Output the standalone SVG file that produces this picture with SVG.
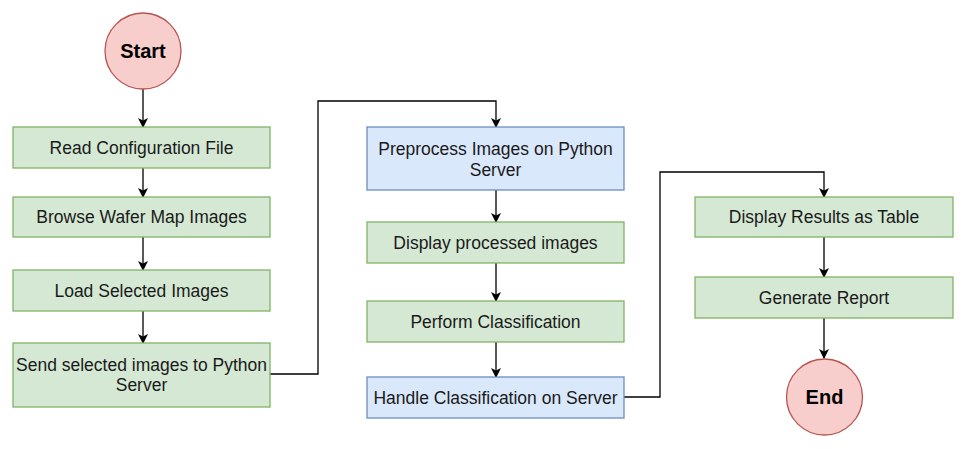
<svg xmlns="http://www.w3.org/2000/svg" width="966" height="449" viewBox="0 0 966 449">
<style>
.g{fill:#d5e8d4;stroke:#82b366;stroke-width:1.3}
.b{fill:#dae8fc;stroke:#6c8ebf;stroke-width:1.3}
.r{fill:#f8cecc;stroke:#b85450;stroke-width:1.3}
.t{font-family:"Liberation Sans",Arial,sans-serif;font-size:17.5px;fill:#1a1a1a;text-anchor:middle;dominant-baseline:central}
.tb{font-family:"Liberation Sans",Arial,sans-serif;font-size:20px;font-weight:bold;fill:#000;text-anchor:middle;dominant-baseline:central}
.c{fill:none;stroke:#000;stroke-width:1.3;marker-end:url(#a)}
</style>
<defs>
<marker id="a" markerWidth="10" markerHeight="10" refX="9" refY="5" orient="auto" markerUnits="userSpaceOnUse">
<path d="M0,0 L10,5 L0,10 L2.5,5 Z" fill="#000"/>
</marker>
</defs>
<rect width="966" height="449" fill="#fff"/>
<g id="connectors">
<path class="c" d="M143,89 V127"/>
<path class="c" d="M143,168 V197"/>
<path class="c" d="M143,237 V270"/>
<path class="c" d="M143,311 V343"/>
<path class="c" d="M270,374 H318 V101 H496 V127"/>
<path class="c" d="M496,190 V222"/>
<path class="c" d="M496,263 V301"/>
<path class="c" d="M496,342 V377"/>
<path class="c" d="M624,397 H660 V172 H824 V197"/>
<path class="c" d="M824,237 V277"/>
<path class="c" d="M824,318 V358"/>
</g>
<g id="start"><circle class="r" cx="143" cy="51" r="38"/><text class="tb" x="143" y="51">Start</text></g>
<g id="read"><rect class="g" x="13" y="127" width="257" height="41"/><text class="t" x="141.5" y="147.5">Read Configuration File</text></g>
<g id="browse"><rect class="g" x="13" y="197" width="257" height="40"/><text class="t" x="141.5" y="217">Browse Wafer Map Images</text></g>
<g id="load"><rect class="g" x="13" y="270" width="257" height="41"/><text class="t" x="141.5" y="290.5">Load Selected Images</text></g>
<g id="send"><rect class="g" x="13" y="343" width="257" height="64"/><text class="t" x="141.5" y="365">Send selected images to Python</text><text class="t" x="141.5" y="385">Server</text></g>
<g id="preprocess"><rect class="b" x="367" y="127" width="257" height="63"/><text class="t" x="495.5" y="148.5">Preprocess Images on Python</text><text class="t" x="495.5" y="169.5">Server</text></g>
<g id="display"><rect class="g" x="367" y="222" width="257" height="41"/><text class="t" x="495.5" y="242.5">Display processed images</text></g>
<g id="perform"><rect class="g" x="367" y="301" width="257" height="41"/><text class="t" x="495.5" y="321.5">Perform Classification</text></g>
<g id="handle"><rect class="b" x="367" y="377" width="257" height="41"/><text class="t" x="495.5" y="397.5">Handle Classification on Server</text></g>
<g id="results"><rect class="g" x="695" y="197" width="258" height="40"/><text class="t" x="824" y="217">Display Results as Table</text></g>
<g id="report"><rect class="g" x="695" y="277" width="258" height="41"/><text class="t" x="824" y="297.5">Generate Report</text></g>
<g id="end"><circle class="r" cx="824.5" cy="397" r="38"/><text class="tb" x="824.5" y="397">End</text></g>
</svg>
